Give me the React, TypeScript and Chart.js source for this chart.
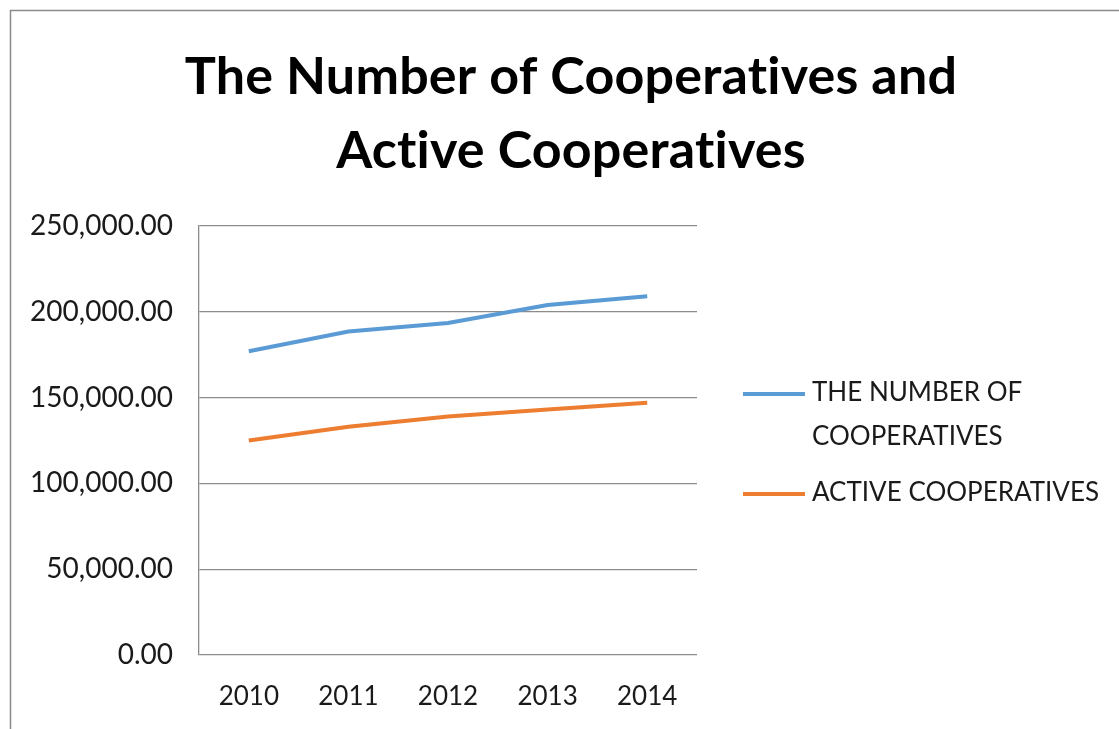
import React, { useEffect, useRef } from "react";
import { Chart, registerables } from "chart.js";

Chart.register(...registerables);

const YEARS = ["2010", "2011", "2012", "2013", "2014"];
const TOTAL_COOPS = [177000, 188500, 193500, 204000, 209000];
const ACTIVE_COOPS = [125000, 133000, 139000, 143000, 147000];
const SERIES_NAMES = ["THE NUMBER OF COOPERATIVES", "ACTIVE COOPERATIVES"];
const SERIES_COLORS = ["#5B9BD5", "#ED7D31"];
const TITLE_LINES = ["The Number of Cooperatives and", "Active Cooperatives"];
const Y_MIN = 0;
const Y_MAX = 250000;
const Y_STEP = 50000;

const FONT = "Lato, 'Open Sans', sans-serif";
const GRID = "#8c8c8c";

const framePlugin = {
  id: "frame",
  beforeDraw(chart: any) {
    const ctx = chart.ctx;
    ctx.save();
    ctx.fillStyle = "#ffffff";
    ctx.fillRect(0, 0, chart.width, chart.height);
    ctx.strokeStyle = "#8a8a8a";
    ctx.lineWidth = 1.5;
    ctx.strokeRect(10.5, 10.5, chart.width + 20, chart.height + 20);
    ctx.restore();
  },
};

const titlePlugin = {
  id: "twoLineTitle",
  afterDraw(chart: any) {
    const ctx = chart.ctx;
    ctx.save();
    ctx.fillStyle = "#000000";
    ctx.font = `bold 52px ${FONT}`;
    try {
      (ctx as any).letterSpacing = "0.2px";
    } catch (e) {}
    ctx.textAlign = "center";
    ctx.textBaseline = "alphabetic";
    TITLE_LINES.forEach((line, i) => {
      ctx.fillText(line, 571, 94 + i * 74);
    });
    ctx.restore();
  },
};

const legendPlugin = {
  id: "sideLegend",
  afterDraw(chart: any) {
    const ctx = chart.ctx;
    ctx.save();
    ctx.font = `26px ${FONT}`;
    ctx.textBaseline = "middle";
    ctx.textAlign = "left";
    const x0 = chart.chartArea.right + 46;
    const lineLen = 62;
    const maxW = 300;
    let y = 393;
    chart.data.datasets.forEach((ds: any) => {
      const words = String(ds.label).split(" ");
      const lines: string[] = [];
      let cur = "";
      words.forEach((w) => {
        const test = cur ? cur + " " + w : w;
        if (ctx.measureText(test).width > maxW && cur) {
          lines.push(cur);
          cur = w;
        } else cur = test;
      });
      if (cur) lines.push(cur);
      ctx.strokeStyle = ds.borderColor;
      ctx.lineWidth = 4;
      ctx.beginPath();
      ctx.moveTo(x0, y + 1);
      ctx.lineTo(x0 + lineLen, y + 1);
      ctx.stroke();
      ctx.fillStyle = "#1a1a1a";
      lines.forEach((l, i) => ctx.fillText(l, x0 + lineLen + 7, y + i * 44));
      y += lines.length * 44 + 12;
    });
    ctx.restore();
  },
};

export default function App() {
  const ref = useRef<HTMLCanvasElement | null>(null);

  useEffect(() => {
    document.body.style.margin = "0";
    const canvas = ref.current;
    if (!canvas) return;
    const chart = new Chart(canvas, {
      type: "line",
      data: {
        labels: YEARS,
        datasets: [
          {
            label: SERIES_NAMES[0],
            data: TOTAL_COOPS,
            borderColor: SERIES_COLORS[0],
            backgroundColor: SERIES_COLORS[0],
            borderWidth: 4,
            pointRadius: 0,
            tension: 0,
          },
          {
            label: SERIES_NAMES[1],
            data: ACTIVE_COOPS,
            borderColor: SERIES_COLORS[1],
            backgroundColor: SERIES_COLORS[1],
            borderWidth: 4,
            pointRadius: 0,
            tension: 0,
          },
        ],
      },
      options: {
        responsive: false,
        animation: false,
        devicePixelRatio: 1,
        layout: { padding: { left: 0, right: 422, top: 226, bottom: 0 } },
        plugins: {
          legend: { display: false },
          title: { display: false },
          tooltip: { enabled: false },
        },
        scales: {
          x: {
            offset: true,
            grid: { display: false, drawTicks: false },
            border: { display: false },
            ticks: {
              color: "#1a1a1a",
              font: { family: FONT, size: 26 },
              padding: 26,
              maxRotation: 0,
            },
            afterFit: (scale: any) => {
              scale.height = 74;
            },
          },
          y: {
            min: Y_MIN,
            max: Y_MAX,
            grid: { color: GRID, lineWidth: 1.3, drawTicks: false },
            border: { display: true, color: GRID, width: 1.3 },
            ticks: {
              stepSize: Y_STEP,
              color: "#1a1a1a",
              font: { family: FONT, size: 28 },
              padding: 26,
              callback: (v: any) =>
                Number(v).toLocaleString("en-US", {
                  minimumFractionDigits: 2,
                  maximumFractionDigits: 2,
                }),
            },
            afterFit: (scale: any) => {
              scale.width = 199;
            },
          },
        },
      },
      plugins: [framePlugin, titlePlugin, legendPlugin],
    });
    return () => chart.destroy();
  }, []);

  return (
    <div style={{ width: 1119, height: 729 }}>
      <canvas ref={ref} width={1119} height={729} style={{ display: "block" }} />
    </div>
  );
}
